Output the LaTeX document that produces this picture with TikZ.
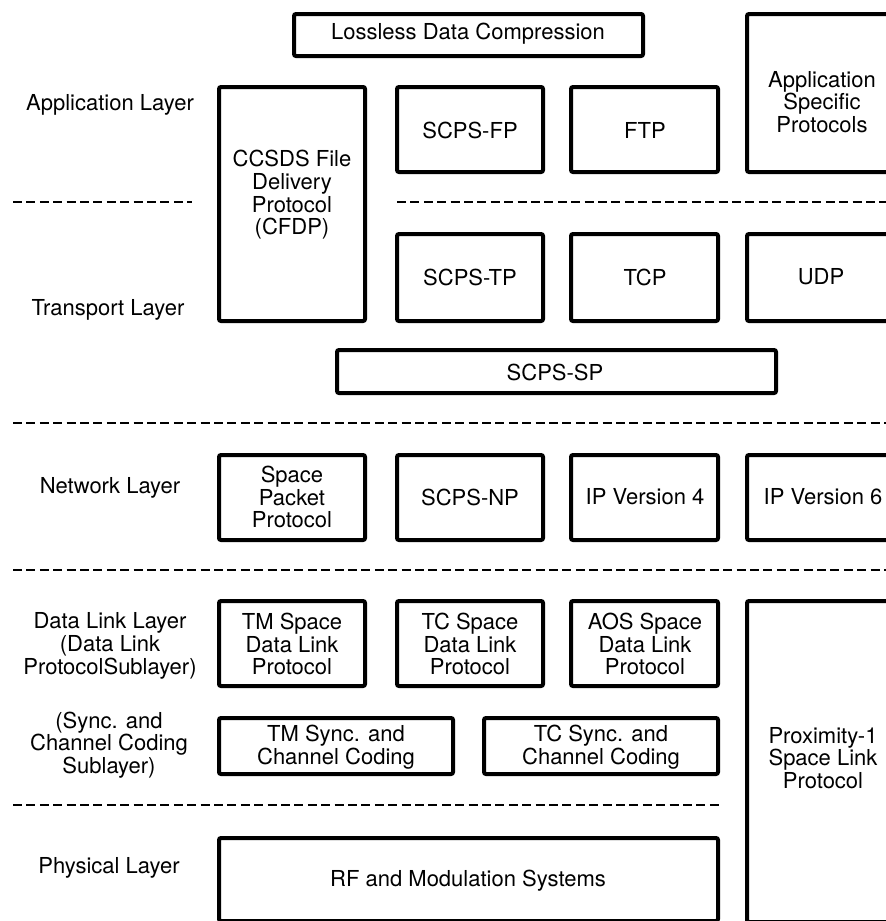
\documentclass[tikz,border=0pt]{standalone}
\usepackage{fontspec}
\setmainfont{TeX Gyre Heros}
\begin{document}
\begin{tikzpicture}[x=1pt,y=-1pt,
  box/.style={draw=black,line width=4pt,rounded corners=2pt},
  sep/.style={draw=black,line width=2.6pt,dash pattern=on 9pt off 4.4pt},
  lbl/.style={align=center,inner sep=0pt,font=\fontsize{22}{22.7}\selectfont}]
\useasboundingbox (0,0) rectangle (886,921);
\clip (0,0) rectangle (886,921);
\fill[white] (0,0) rectangle (886,921);
% dashed layer separators
\coordinate (d1a) at (13,202); \coordinate (d1b) at (192,202);
\coordinate (d1c) at (397,202); \coordinate (d1d) at (890,202);
\coordinate (d2a) at (13,423); \coordinate (d2b) at (890,423);
\coordinate (d3a) at (13,570); \coordinate (d3b) at (890,570);
\coordinate (d4a) at (13,805); \coordinate (d4b) at (720,805);
\draw[sep] (d1a) -- (d1b);
\draw[sep] (d1c) -- (d1d);
\draw[sep] (d2a) -- (d2b);
\draw[sep] (d3a) -- (d3b);
\draw[sep] (d4a) -- (d4b);
% boxes
\draw[box] (294,14) rectangle (643,56);
\draw[box] (747,14) rectangle (905,172);
\draw[box] (219,87) rectangle (365,321);
\draw[box] (397,87) rectangle (543,172);
\draw[box] (571,87) rectangle (718,172);
\draw[box] (397,234) rectangle (543,321);
\draw[box] (571,234) rectangle (718,321);
\draw[box] (747,234) rectangle (905,321);
\draw[box] (337,350) rectangle (776,393);
\draw[box] (219,455) rectangle (365,540);
\draw[box] (397,455) rectangle (543,540);
\draw[box] (571,455) rectangle (718,540);
\draw[box] (747,455) rectangle (905,540);
\draw[box] (219,601) rectangle (365,686);
\draw[box] (397,601) rectangle (543,686);
\draw[box] (571,601) rectangle (718,686);
\draw[box] (747,601) rectangle (905,922);
\draw[box] (219,718) rectangle (453,774);
\draw[box] (484,718) rectangle (718,774);
\draw[box] (219,838) rectangle (718,921);
% box texts
\node[lbl] (ldc) at (468,34) {Lossless Data Compression};
\node[lbl] (asp) at (822,102) {Application\\Specific\\Protocols};
\node[lbl] (cfdp) at (292,195) {CCSDS File\\Delivery\\Protocol\\(CFDP)};
\node[lbl] (fp) at (470,130) {SCPS-FP};
\node[lbl] (ftp) at (645,130) {FTP};
\node[lbl] (tp) at (470,277) {SCPS-TP};
\node[lbl] (tcp) at (645,277) {TCP};
\node[lbl] (udp) at (821,277) {UDP};
\node[lbl] (sp) at (555,372) {SCPS-SP};
\node[lbl] (spp) at (292,497) {Space\\Packet\\Protocol};
\node[lbl] (np) at (470,497) {SCPS-NP};
\node[lbl] (ip4) at (645,497) {IP Version 4};
\node[lbl] (ip6) at (823,497) {IP Version 6};
\node[lbl] (tmdl) at (292,644) {TM Space\\Data Link\\Protocol};
\node[lbl] (tcdl) at (470,644) {TC Space\\Data Link\\Protocol};
\node[lbl] (aosdl) at (645,644) {AOS Space\\Data Link\\Protocol};
\node[lbl] (prox) at (823,758) {Proximity-1\\Space Link\\Protocol};
\node[lbl] (tmsc) at (336,747) {TM Sync. and\\Channel Coding};
\node[lbl] (tcsc) at (601,747) {TC Sync. and\\Channel Coding};
\node[lbl] (rf) at (468,881) {RF and Modulation Systems};
% layer labels
\node[lbl] (app) at (110,105) {Application Layer};
\node[lbl] (trans) at (108,310) {Transport Layer};
\node[lbl] (net) at (110,488) {Network Layer};
\node[lbl] (dll) at (110,646) {Data Link Layer\\(Data Link\\ProtocolSublayer)};
\node[lbl] (sync) at (109,745) {(Sync. and\\Channel Coding\\Sublayer)};
\node[lbl] (phy) at (109,868) {Physical Layer};
\end{tikzpicture}
\end{document}
